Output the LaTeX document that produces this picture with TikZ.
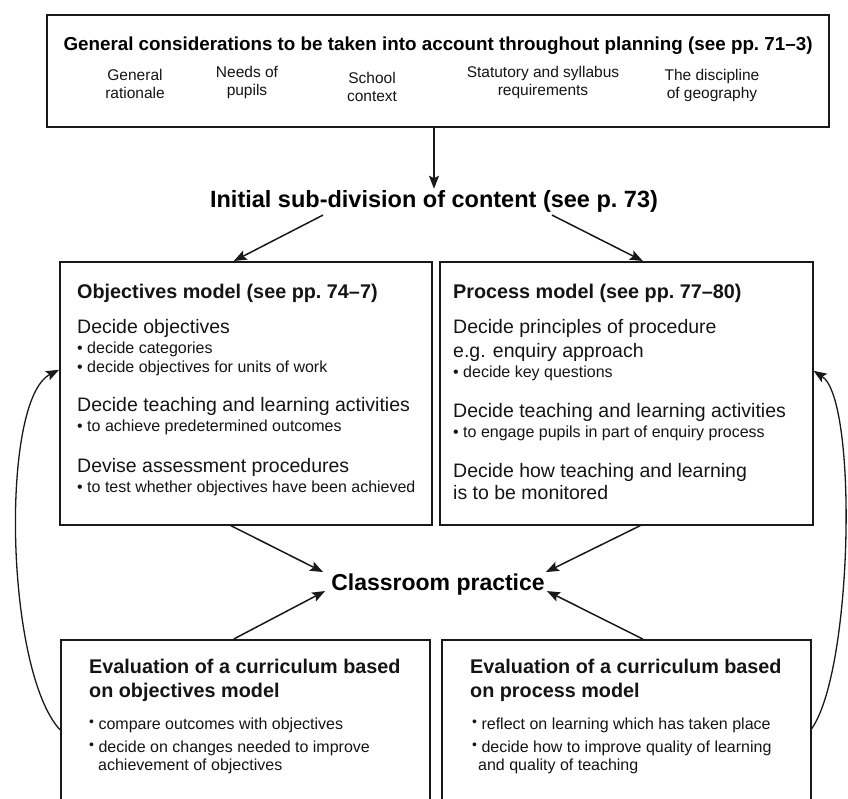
\documentclass[tikz,border=0pt]{standalone}
\usepackage{fontspec}
\setmainfont{Liberation Sans}
\usetikzlibrary{arrows.meta,calc}

\newcommand{\fs}[1]{\fontsize{#1}{1.2\dimexpr#1pt\relax}\selectfont}
\newcommand{\hibullet}{\raisebox{2.5pt}{\fontsize{14}{14}\selectfont\textbullet}}

\begin{document}
\begin{tikzpicture}[x=1pt,y=-1pt,
  frame/.style={draw=black!90, line width=1.6pt, inner sep=0pt, anchor=north west},
  txt/.style={inner sep=0pt, anchor=base west, text=black!92},
  arr/.style={draw=black!90, line width=1.5pt, -{Stealth[length=13pt,width=10pt,inset=2.5pt]}},
  loop/.style={draw=black!90, line width=1.3pt, -{Stealth[length=13pt,width=10pt,inset=2.5pt]}},
  head/.style={txt, font=\fs{19.8}\bfseries},
  main/.style={txt, font=\fs{19.5}},
  small/.style={txt, font=\fs{16}},
  item/.style={inner sep=0pt, anchor=north, align=center, font=\fontsize{15.5}{18}\selectfont, text=black!92}
]
\useasboundingbox (0,0) rectangle (848,799);
\clip (0,0) rectangle (848,799);

% ---- boxes ----
\node[frame, minimum width=782pt, minimum height=112pt] (top) at (46,14) {};
\node[frame, minimum width=372pt, minimum height=263pt] (obj) at (59,261) {};
\node[frame, minimum width=373pt, minimum height=263pt] (proc) at (439,261) {};
\node[frame, minimum width=369pt, minimum height=190pt] (evo) at (60,639) {};
\node[frame, minimum width=369pt, minimum height=190pt] (evp) at (441,639) {};

% ---- general considerations ----
\node[inner sep=0pt, anchor=base, font=\fs{18.8}\bfseries] (gen) at (438,51)
  {General considerations to be taken into account throughout planning (see pp.~71--3)};
\node[item] (g1) at (135,69) {General\\rationale};
\node[item] (g2) at (247,66) {Needs of\\pupils};
\node[item] (g3) at (372,72) {School\\context};
\node[item] (g4) at (543,66) {Statutory and syllabus\\requirements};
\node[item] (g5) at (712,69) {The discipline\\of geography};

% ---- headline texts ----
\node[inner sep=2pt, anchor=base, font=\fs{23.5}\bfseries] (init) at (434,208)
  {Initial sub-division of content (see p.~73)};
\node[inner sep=0pt, anchor=base, font=\fs{23}\bfseries] (cp) at (438,590)
  {Classroom practice};

% ---- objectives model ----
\node[head] (oh) at (77,299) {Objectives model (see pp.~74--7)};
\node[main] (o1) at (77,334) {Decide objectives};
\node[small] (o1a) at (77,353) {\textbullet\ decide categories};
\node[small] (o1b) at (77,372) {\textbullet\ decide objectives for units of work};
\node[main] (o2) at (77,411) {Decide teaching and learning activities};
\node[small] (o2a) at (77,431) {\textbullet\ to achieve predetermined outcomes};
\node[main] (o3) at (77,472) {Devise assessment procedures};
\node[small] (o3a) at (77,492) {\textbullet\ to test whether objectives have been achieved};

% ---- process model ----
\node[head] (ph) at (453,299) {Process model (see pp.~77--80)};
\node[main] (p1) at (453,334) {Decide principles of procedure};
\node[main] (p1b) at (453,357) {e.g. enquiry approach};
\node[small] (p1a) at (453,377) {\textbullet\ decide key questions};
\node[main] (p2) at (453,417) {Decide teaching and learning activities};
\node[small] (p2a) at (453,437) {\textbullet\ to engage pupils in part of enquiry process};
\node[main] (p3) at (453,477) {Decide how teaching and learning};
\node[main] (p3b) at (453,499) {is to be monitored};

% ---- evaluation boxes ----
\node[head] (eo1) at (89,673) {Evaluation of a curriculum based};
\node[head] (eo2) at (89,697) {on objectives model};
\node[small] (eoa) at (89,729) {\hibullet\ compare outcomes with objectives};
\node[small] (eob) at (89,752) {\hibullet\ decide on changes needed to improve};
\node[small] (eoc) at (98,770) {achievement of objectives};

\node[head] (ep1) at (470,673) {Evaluation of a curriculum based};
\node[head] (ep2) at (470,697) {on process model};
\node[small] (epa) at (472,729) {\hibullet\ reflect on learning which has taken place};
\node[small] (epb) at (472,752) {\hibullet\ decide how to improve quality of learning};
\node[small] (epc) at (478,770) {and quality of teaching};

% ---- connectors ----
\draw[arr] (top.south -| init.north) -- (init.north);
\draw[arr] ($(init.south)+(-111,0)$) -- ($(obj.north)+(-12,0)$);
\draw[arr] ($(init.south)+(118,0)$) -- ($(proc.north)+(16.5,0)$);

\draw[arr] ($(obj.south)+(-15,0)$) -- ($(cp.west)+(-8,-12)$);
\draw[arr] ($(proc.south)+(14,0)$) -- ($(cp.east)+(1,-12)$);
\draw[arr] ($(evo.north)+(-11.5,0)$) -- ($(cp.west)+(-6,7)$);
\draw[arr] ($(evp.north)+(16.5,0)$) -- ($(cp.east)+(2,7)$);

% feedback loops from evaluation back to planning
\draw[loop] ($(evo.west)+(0,-5)$) .. controls (5,670) and (0,400) .. ($(obj.west)+(0,-23.5)$);
\draw[loop] ($(evp.east)+(0,-6)$) .. controls (853,670) and (858,400) .. ($(proc.east)+(0,-22.5)$);
\end{tikzpicture}
\end{document}
